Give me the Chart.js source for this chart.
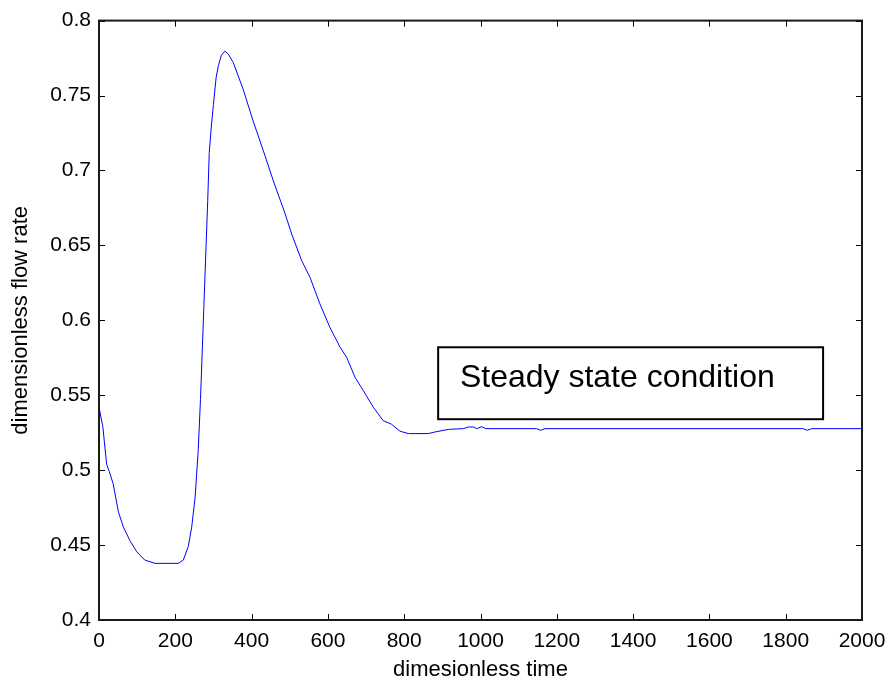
<!DOCTYPE html>
<html>
<head>
<meta charset="utf-8">
<script src="https://cdn.jsdelivr.net/npm/chart.js@4/dist/chart.umd.min.js"></script>
<style>
  body { margin: 0; background: #fff; }
  #wrap { width: 891px; height: 686px; }
</style>
</head>
<body>
<div id="wrap"><canvas id="flowChart" width="891" height="686"></canvas></div>
<script>
// dimensionless time (x) and flow rate (y)
const timeValues = [
  0, 10, 20, 27, 37, 51, 64, 81, 99, 120, 147, 208, 221, 234, 243, 252, 260, 266,
  275, 285, 289, 295, 300, 307, 313, 321, 330, 339, 352, 378, 404, 431, 457, 488,
  505, 531, 553, 579, 605, 632, 649, 671, 693, 719, 745, 767, 789, 811, 863, 881,
  916, 955, 968, 981, 990, 1003, 1014, 1147, 1158, 1169, 1845, 1857, 1868, 2000
];
const flowValues = [
  0.542, 0.529, 0.504, 0.499, 0.491, 0.472, 0.462, 0.453, 0.4455, 0.440, 0.4378, 0.4378, 0.440, 0.449, 0.462, 0.482, 0.513, 0.547,
  0.610, 0.680, 0.712, 0.731, 0.744, 0.762, 0.770, 0.777, 0.7796, 0.7776, 0.772, 0.754, 0.733, 0.713, 0.693, 0.671,
  0.6576, 0.640, 0.6287, 0.611, 0.5954, 0.582, 0.5754, 0.562, 0.553, 0.542, 0.533, 0.5306, 0.526, 0.5244, 0.5244, 0.5255,
  0.5272, 0.5277, 0.5288, 0.5288, 0.5277, 0.5290, 0.5277, 0.5277, 0.5266, 0.5277, 0.5277, 0.5266, 0.5277, 0.5277
];
const xTickStep = 200;
const yTickStep = 0.05;

// annotation box, in data units
const noteText = "Steady state condition";
const noteBox = { x0: 889, x1: 1898, y0: 0.534, y1: 0.582 };
const noteAnchor = { x: 946, y: 0.5554 };

const fontFamily = "'Liberation Sans', Arial, sans-serif";

const points = timeValues.map((t, i) => ({ x: t, y: flowValues[i] }));

// MATLAB-style frame: full box with inward ticks on all four sides, plus the text box
const matlabFrame = {
  id: "matlabFrame",
  afterDraw(chart) {
    const { ctx, chartArea: a, scales: { x, y } } = chart;
    const tl = 6;
    ctx.save();
    ctx.strokeStyle = "#000";
    ctx.lineWidth = 1;
    ctx.beginPath();
    x.ticks.forEach(t => {
      const px = Math.round(x.getPixelForValue(t.value)) + 0.5;
      ctx.moveTo(px, a.bottom); ctx.lineTo(px, a.bottom - tl);
      ctx.moveTo(px, a.top); ctx.lineTo(px, a.top + tl);
    });
    y.ticks.forEach(t => {
      const py = Math.round(y.getPixelForValue(t.value)) + 0.5;
      ctx.moveTo(a.left, py); ctx.lineTo(a.left + tl, py);
      ctx.moveTo(a.right, py); ctx.lineTo(a.right - tl, py);
    });
    ctx.stroke();

    ctx.lineWidth = 2;
    ctx.strokeStyle = "#1a1a1a";
    ctx.strokeRect(a.left, a.top, a.right - a.left, a.bottom - a.top);

    // text box
    const bx0 = x.getPixelForValue(noteBox.x0), bx1 = x.getPixelForValue(noteBox.x1);
    const by0 = y.getPixelForValue(noteBox.y1), by1 = y.getPixelForValue(noteBox.y0);
    ctx.fillStyle = "#fff";
    ctx.fillRect(bx0, by0, bx1 - bx0, by1 - by0);
    ctx.strokeStyle = "#000";
    ctx.strokeRect(bx0, by0, bx1 - bx0, by1 - by0);
    ctx.fillStyle = "#000";
    ctx.font = "32px " + fontFamily;
    ctx.textBaseline = "alphabetic";
    ctx.fillText(noteText, x.getPixelForValue(noteAnchor.x), y.getPixelForValue(noteAnchor.y));
    ctx.restore();
  }
};

new Chart(document.getElementById("flowChart"), {
  type: "line",
  data: {
    datasets: [{
      data: points,
      borderColor: "#0000ff",
      borderWidth: 1,
      pointRadius: 0,
      tension: 0,
      fill: false
    }]
  },
  options: {
    responsive: false,
    animation: false,
    layout: { padding: { left: 0, right: 29, top: 19, bottom: 0 } },
    plugins: { legend: { display: false }, tooltip: { enabled: false } },
    scales: {
      x: {
        type: "linear",
        min: 0,
        max: 2000,
        grid: { display: false, drawTicks: false },
        border: { display: false },
        ticks: {
          stepSize: xTickStep,
          color: "#000",
          padding: 9,
          maxRotation: 0,
          font: { family: fontFamily, size: 21 },
          callback: v => String(v)
        },
        title: {
          display: true,
          text: "dimesionless time",
          color: "#000",
          padding: { top: 0, bottom: 3 },
          font: { family: fontFamily, size: 22 }
        },
        afterFit(scale) {
          scale.height = 66;
          scale.paddingLeft = 0;
          scale.paddingRight = 0;
        }
      },
      y: {
        min: 0.4,
        max: 0.8,
        grid: { display: false, drawTicks: false },
        border: { display: false },
        ticks: {
          stepSize: yTickStep,
          color: "#000",
          padding: 8,
          font: { family: fontFamily, size: 21 },
          callback: v => String(Number(v.toFixed(2)))
        },
        title: {
          display: true,
          text: "dimensionless flow rate",
          color: "#000",
          padding: { top: 8, bottom: 0 },
          font: { family: fontFamily, size: 22 }
        },
        afterFit(scale) { scale.width = 99; }
      }
    }
  },
  plugins: [matlabFrame]
});
</script>
</body>
</html>
